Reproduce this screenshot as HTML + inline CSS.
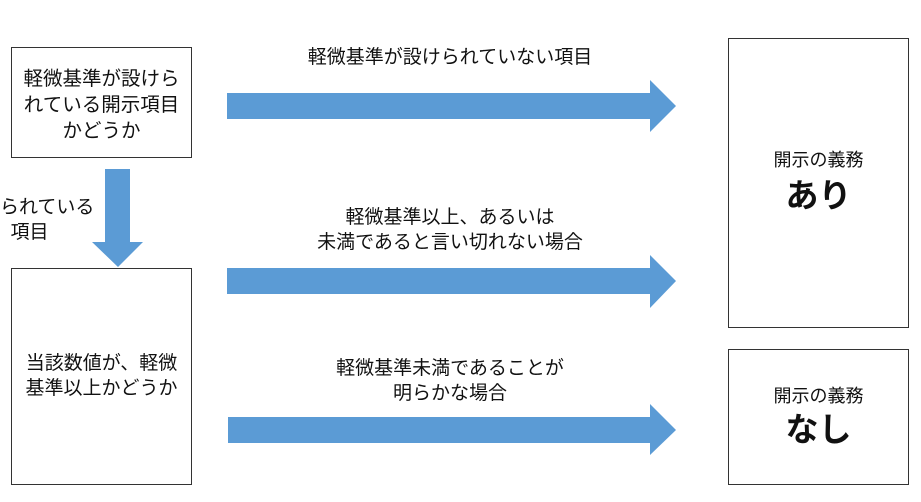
<!DOCTYPE html>
<html><head><meta charset="utf-8"><style>
body{margin:0;width:921px;height:502px;background:#fff;position:relative;overflow:hidden;font-family:"Liberation Sans","Noto Sans CJK JP",sans-serif;color:#111}
.box{position:absolute;border:1.5px solid #333;box-sizing:border-box;background:#fff}
.t{position:absolute;text-align:center;font-size:19px;line-height:25px;white-space:nowrap}
</style></head><body>
<svg width="921" height="502" style="position:absolute;left:0;top:0">
<g fill="#5b9bd5">
<polygon points="227,93 650,93 650,80 676,106 650,132 650,119 227,119"/>
<polygon points="227,268 650,268 650,255 676,281 650,308 650,294 227,294"/>
<polygon points="228,417 650,417 650,404 676,430 650,455 650,443 228,443"/>
<polygon points="105,169 130,169 130,242 143,242 118,267 92,242 105,242"/>
</g></svg>
<div class="box" style="left:11px;top:47px;width:181px;height:111px"></div>
<div class="t" style="left:11px;width:181px;top:66px;font-size:19.5px;line-height:26px">軽微基準が設けら<br>れている開示項目<br>かどうか</div>
<div class="t" style="left:0;top:195px;text-align:left">られている<br>&nbsp;&nbsp;項目</div>
<div class="box" style="left:11px;top:268px;width:181px;height:217px"></div>
<div class="t" style="left:11px;width:181px;top:351px">当該数値が、軽微<br>基準以上かどうか</div>
<div class="t" style="left:250px;width:400px;top:45px">軽微基準が設けられていない項目</div>
<div class="t" style="left:250px;width:400px;top:205px">軽微基準以上、あるいは<br>未満であると言い切れない場合</div>
<div class="t" style="left:250px;width:400px;top:356px">軽微基準未満であることが<br>明らかな場合</div>
<div class="box" style="left:728px;top:38px;width:181px;height:290px"></div>
<div class="t" style="left:728px;width:181px;top:148px;font-size:18px">開示の義務</div>
<div class="t" style="left:728px;width:181px;top:176px;font-size:33px;line-height:40px;font-weight:bold">あり</div>
<div class="box" style="left:728px;top:349px;width:181px;height:136px"></div>
<div class="t" style="left:728px;width:181px;top:384px;font-size:18px">開示の義務</div>
<div class="t" style="left:728px;width:181px;top:410px;font-size:33px;line-height:40px;font-weight:bold">なし</div>
</body></html>
